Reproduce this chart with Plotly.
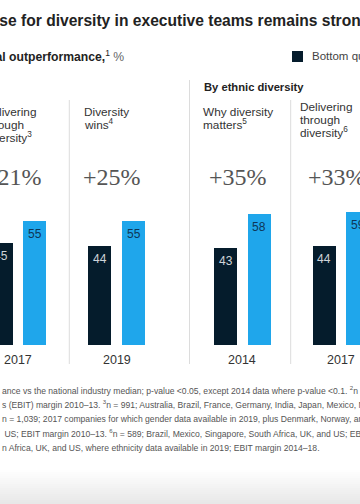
import plotly.graph_objects as go

# ---------------- data ----------------
years = ["2017", "2019", "2014", "2017"]
bottom_quartile = [45, 44, 43, 44]
top_quartile = [55, 55, 58, 59]
outperformance = ["+21%", "+25%", "+35%", "+33%"]
panel_titles = [
    ["Delivering", "through", "diversity<sup>3</sup>"],
    ["Diversity", "wins<sup>4</sup>"],
    ["Why diversity", "matters<sup>5</sup>"],
    ["Delivering", "through", "diversity<sup>6</sup>"],
]
chart_title = "The business case for diversity in executive teams remains strong"
subtitle_bold = "Likelihood of financial outperformance,"
legend_labels = ["Bottom quartile", "Top quartile"]
group_header = "By ethnic diversity"
footnotes = [
    "ance vs the national industry median; p-value <0.05, except 2014 data where p-value <0.1. <sup>2</sup>n = 383; Latin America, UK, and US; earnings",
    "s (EBIT) margin 2010–13. <sup>3</sup>n = 991; Australia, Brazil, France, Germany, India, Japan, Mexico, Nigeria, Singapore, South Africa",
    "n = 1,039; 2017 companies for which gender data available in 2019, plus Denmark, Norway, and Sweden; EBIT margin 2014–18.",
    " US; EBIT margin 2010–13. <sup>6</sup>n = 589; Brazil, Mexico, Singapore, South Africa, UK, and US; EBIT margin 2011–15.",
    "n Africa, UK, and US, where ethnicity data available in 2019; EBIT margin 2014–18.",
]

# ---------------- layout constants ----------------
W, H = 360, 504
PT, PB = 200, 345          # plot area top / bottom in pixels
PX_PER_UNIT = 2.26
YMAX = (PB - PT) / PX_PER_UNIT

DARK = "#051C2C"
BLUE = "#1FA6EB"
FONT = "Liberation Sans"

PANEL_STEP = 98.8
GROUP_GAP = 27
PAIR_OFF = 33.7
BAR_W = 23.3
dark_x = [1 + PANEL_STEP * i + (GROUP_GAP if i >= 2 else 0) for i in range(4)]
blue_x = [x + PAIR_OFF for x in dark_x]
pair_c = [x + PAIR_OFF / 2 for x in dark_x]

TITLE_X = [-18.5, 82, 200.7, 298.3]
TITLE_TOP = [111.5, 111.5, 111.8, 106.7]
TITLE_LH = 13


def py(p):
    """pixel y -> paper y"""
    return (PB - p) / (PB - PT)


def px(p):
    """pixel x -> paper x"""
    return p / W


fig = go.Figure()
fig.add_trace(go.Bar(x=dark_x, y=bottom_quartile, width=BAR_W, marker_color=DARK,
                     marker_line_width=0, name=legend_labels[0], hoverinfo="skip"))
fig.add_trace(go.Bar(x=blue_x, y=top_quartile, width=BAR_W, marker_color=BLUE,
                     marker_line_width=0, name=legend_labels[1], hoverinfo="skip"))

ann = []
# value labels
for xs, vals, col in [(dark_x, bottom_quartile, "#cfd4d8"), (blue_x, top_quartile, "#0e3657")]:
    for x, v in zip(xs, vals):
        ann.append(dict(x=x, y=v, xref="x", yref="y", text=str(v), showarrow=False,
                        xanchor="center", yanchor="middle", yshift=-13,
                        font=dict(family=FONT, size=12, color=col)))
# year labels
for c, yr in zip(pair_c, years):
    ann.append(dict(x=px(c), y=py(360), xref="paper", yref="paper", text=yr, showarrow=False,
                    xanchor="center", yanchor="middle",
                    font=dict(family=FONT, size=12.5, color="#333333")))
# outperformance
for c, t in zip(pair_c, outperformance):
    ann.append(dict(x=px(c - 4.7), y=py(176.5), xref="paper", yref="paper", text=t, showarrow=False,
                    xanchor="center", yanchor="middle",
                    font=dict(family="Liberation Serif", size=24, color="#555555")))
# panel titles
for i, lines in enumerate(panel_titles):
    for j, ln in enumerate(lines):
        ann.append(dict(x=px(TITLE_X[i]), y=py(TITLE_TOP[i] + j * TITLE_LH), xref="paper", yref="paper",
                        text=ln, showarrow=False, xanchor="left", yanchor="middle",
                        font=dict(family=FONT, size=11.8, color="#333333")))
# group header
ann.append(dict(x=px(201.7), y=py(87), xref="paper", yref="paper", text="<b>" + group_header + "</b>",
                showarrow=False, xanchor="left", yanchor="middle",
                font=dict(family=FONT, size=11.2, color="#222222")))
# chart title
ann.append(dict(x=px(372), y=py(20), xref="paper", yref="paper", text="<b>" + chart_title + "</b>",
                showarrow=False, xanchor="right", yanchor="middle",
                font=dict(family=FONT, size=15.6, color="#222222")))
# subtitle
ann.append(dict(x=px(126), y=py(56), xref="paper", yref="paper",
                text="<b>" + subtitle_bold + "</b><sup>1</sup> <span style='color:#666666'>%</span>",
                showarrow=False, xanchor="right", yanchor="middle",
                font=dict(family=FONT, size=12.2, color="#222222")))
# legend
ann.append(dict(x=px(310), y=py(56), xref="paper", yref="paper",
                text=legend_labels[0] + "          " + legend_labels[1],
                showarrow=False, xanchor="left", yanchor="middle",
                font=dict(family=FONT, size=11.5, color="#444444")))
# footnotes
FOOT_Y = [390, 404.5, 419, 433.7, 448.3]
for y, t in zip(FOOT_Y, footnotes):
    ann.append(dict(x=px(0), y=py(y), xref="paper", yref="paper", text=t, showarrow=False,
                    xanchor="left", yanchor="middle",
                    font=dict(family=FONT, size=8.6, color="#555555")))

shapes = []
# legend square
shapes.append(dict(type="rect", xref="paper", yref="paper", x0=px(292), x1=px(303),
                   y0=py(62), y1=py(51), fillcolor=DARK, line_width=0))
# dividers
for x, y0 in [(69.3, 100), (189.5, 80), (290.7, 100)]:
    shapes.append(dict(type="line", xref="paper", yref="paper", x0=px(x), x1=px(x),
                       y0=py(y0), y1=py(364), line=dict(color="#dcdcdc", width=1)))
# bottom grey fade
N = 17
for k in range(N):
    g = int(round(255 - (255 - 232) * (k + 1) / N))
    shapes.append(dict(type="rect", xref="paper", yref="paper", x0=0, x1=1,
                       y0=py(470 + 2 * k), y1=py(472 + 2 * k + 0.5),
                       fillcolor=f"rgb({g},{g},{g})", line_width=0, layer="below"))

fig.update_layout(
    width=W, height=H,
    margin=dict(l=0, r=0, t=PT, b=H - PB, pad=0),
    paper_bgcolor="white", plot_bgcolor="white",
    showlegend=False, bargap=0,
    xaxis=dict(range=[0, W], visible=False, fixedrange=True),
    yaxis=dict(range=[0, YMAX], visible=False, fixedrange=True),
    annotations=ann, shapes=shapes,
)

fig.write_html(
    "out.html",
    config={"displayModeBar": False},
    post_script="document.body.style.margin='0';document.body.style.overflow='hidden';",
)
